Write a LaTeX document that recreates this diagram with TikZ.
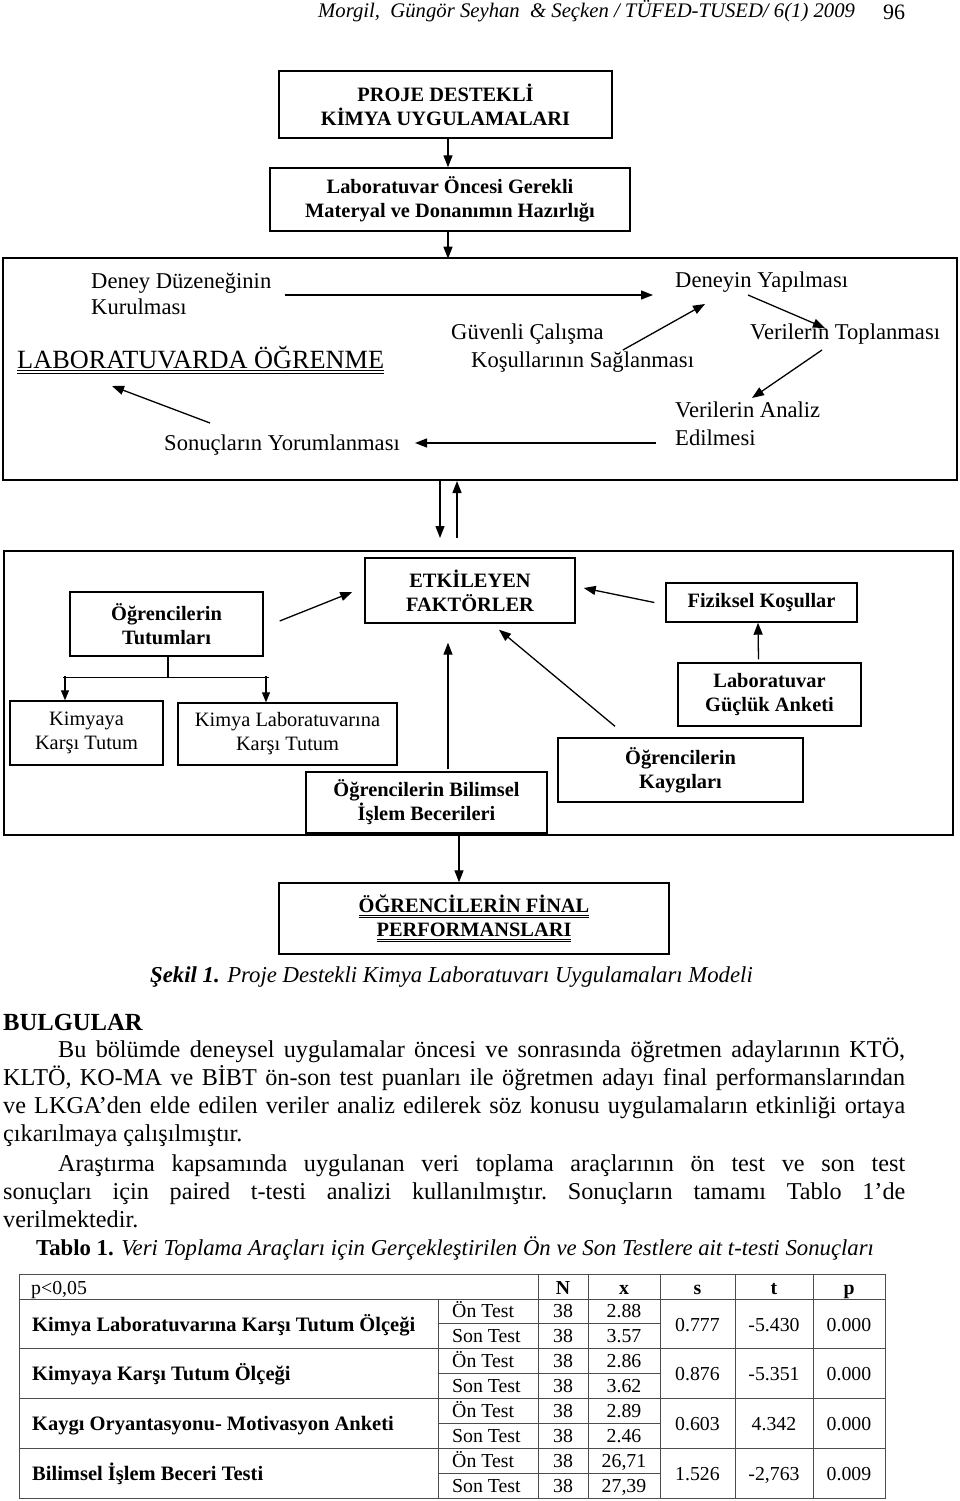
\documentclass[tikz,border=0pt]{standalone}
\usepackage{fontspec}
\setmainfont{Liberation Serif}
\usetikzlibrary{arrows.meta,calc}

\newcommand\boxfont{\fontsize{20.4}{24}\selectfont}
\newcommand\labfont{\fontsize{22.6}{26}\selectfont}
\newcommand\bodyfont{\fontsize{24.2}{28.3}\selectfont}
\newcommand\cellfont{\fontsize{19.8}{22}\selectfont}
\newcommand\labelfont{\fontsize{20.5}{22}\selectfont\bfseries}
\newcommand\capfont{\fontsize{22.75}{26}\selectfont}
\newcommand\dblline[1]{\leavevmode\vtop{\hbox{#1}\kern2pt\hrule height1pt\kern1.2pt\hrule height1pt}}

\begin{document}
\begin{tikzpicture}[x=1pt,y=-1pt,
    arr/.style={line width=1.3pt,-{Triangle[length=12pt,width=9pt]}},
    smallarr/.style={line width=1.2pt,-{Triangle[length=10pt,width=8pt]}}]

  \fill[white] (0,0) rectangle (960,1501);
  \useasboundingbox (0,0) rectangle (960,1501);

  % page head
  \node[anchor=base west,inner sep=0pt,font=\fontsize{20.7}{24}\selectfont\itshape] (head) at (318,18)
    {Morgil,~ Güngör Seyhan~ \& Seçken / TÜFED-TUSED/ 6(1) 2009};
  \node[anchor=base west,inner sep=0pt,font=\fontsize{22}{26}\selectfont] (page) at (883,20) {96};

  % frames
  \begin{scope}[every node/.style={draw,line width=2pt,inner sep=0pt}]
    \node[minimum width=954pt,minimum height=222pt] (lab) at (480,369) {};
    \node[minimum width=949pt,minimum height=284pt] (faktor) at (478.5,693) {};
  \end{scope}

  % boxes
  \begin{scope}[every node/.style={draw,line width=1.4pt,inner sep=0pt,align=center,font=\boxfont\bfseries}]
    \node[minimum width=333pt,minimum height=67pt] (proje) at (445.5,104.5) {PROJE DESTEKLİ\\KİMYA UYGULAMALARI};
    \node[minimum width=360pt,minimum height=63pt] (hazir) at (450,199.5) {Laboratuvar Öncesi Gerekli\\Materyal ve Donanımın Hazırlığı};
    \node[minimum width=210pt,minimum height=65pt] (etken) at (470,590.5) {ETKİLEYEN\\FAKTÖRLER};
    \node[minimum width=193pt,minimum height=64pt] (tutum) at (166.5,624) {Öğrencilerin\\Tutumları};
    \node[minimum width=191pt,minimum height=39pt] (fizik) at (761.5,602.5) {Fiziksel Koşullar};
    \node[minimum width=183pt,minimum height=63pt] (gucluk) at (769.5,694.5) {Laboratuvar\\Güçlük Anketi};
    \node[minimum width=241pt,minimum height=61pt] (bilim) at (426.5,802.5) {Öğrencilerin Bilimsel\\İşlem Becerileri};
    \node[minimum width=245pt,minimum height=64pt] (kaygi) at (680.5,770) {Öğrencilerin\\Kaygıları};
    \node[minimum width=390pt,minimum height=71pt] (final) at (474,918.5) {\dblline{ÖĞRENCİLERİN FİNAL}\\\dblline{PERFORMANSLARI}};
    \node[font=\boxfont,minimum width=153pt,minimum height=64pt] (kimya) at (86.5,733) {Kimyaya\\Karşı Tutum};
    \node[font=\boxfont,minimum width=219pt,minimum height=62pt] (kimlab) at (287.5,734) {Kimya Laboratuvarına\\Karşı Tutum};
  \end{scope}

  % laboratory cycle
  \begin{scope}[every node/.style={anchor=base west,inner sep=0pt,font=\labfont}]
    \node (deney) at (91,288) {Deney Düzeneğinin};
    \node (kurul) at (91,314) {Kurulması};
    \node (yapil) at (675,287) {Deneyin Yapılması};
    \node (guven) at (451,339) {Güvenli Çalışma};
    \node (kosul) at (471,367) {Koşullarının Sağlanması};
    \node (topla) at (750,339) {Verilerin Toplanması};
    \node (analiz) at (675,417) {Verilerin Analiz};
    \node (edil) at (675,445) {Edilmesi};
    \node (sonuc) at (164,450) {Sonuçların Yorumlanması};
    \node[font=\fontsize{26.3}{30}\selectfont] (ogren) at (17,368) {\dblline{LABORATUVARDA ÖĞRENME}};
  \end{scope}

  \draw[arr] ($(proje.south)+(2.5,0)$) -- ($(hazir.north)+(-2,0)$);
  \draw[arr] ($(hazir.south)+(-2,0)$) -- ($(hazir.south)+(-2,27)$);

  \draw[arr] ($(deney.base east)+(13,7)$) -- ($(yapil.base west)+(-22,8)$);
  \draw[arr] ($(guven.base east)+(19,11)$) -- ($(yapil.base west)+(30,17)$);
  \draw[arr] ($(yapil.base west)+(73,8)$) -- ($(topla.base west)+(75,-11)$);
  \draw[arr] ($(topla.base west)+(72,11)$) -- ($(analiz.base west)+(77,-19)$);
  \draw[arr] ($(edil.base west)+(-19,-2)$) -- ($(sonuc.base east)+(15,-7)$);
  \draw[arr] ($(sonuc.base west)+(46,-27)$) -- ($(ogren.base west)+(95,18)$);

  % between frames
  \draw[arr] ($(lab.south)+(-40,0)$) -- ($(lab.south)+(-40,57)$);
  \draw[arr] ($(lab.south)+(-23,57)$) -- ($(lab.south)+(-23,0)$);

  % factors
  \draw[arr] ($(tutum.east)+(16,-3)$) -- ($(etken.west)+(-12,1.5)$);
  \draw[arr] ($(fizik.west)+(-11,0)$) -- ($(etken.east)+(8,-2.5)$);
  \draw[arr] ($(gucluk.north)+(-11,-3)$) -- ($(fizik.south)+(-3.5,0)$);
  \draw[arr] ($(kaygi.north)+(-65.5,-11)$) -- ($(etken.south)+(29,6)$);
  \draw[arr] ($(bilim.north)+(21.5,-2)$) -- ($(etken.south)+(-22,19)$);

  \draw[line width=1.2pt] ($(tutum.south)+(1.5,0)$) -- ++(0,21) coordinate (tsplit);
  \draw[line width=1.2pt] ($(tsplit)+(-105,0)$) -- ($(tsplit)+(101,0)$);
  \draw[smallarr] ($(kimya.north)+(-21.5,-24)$) -- ($(kimya.north)+(-21.5,0)$);
  \draw[smallarr] ($(kimlab.north)+(-21.5,-26)$) -- ($(kimlab.north)+(-21.5,0)$);

  \draw[arr] ($(final.north)+(-15,-48)$) -- ($(final.north)+(-15,0)$);

  % caption and text
  \node[anchor=base west,inner sep=0pt,font=\capfont\itshape] (sekil) at (150,982)
    {\textbf{Şekil 1.} Proje Destekli Kimya Laboratuvarı Uygulamaları Modeli};
  \node[anchor=base west,inner sep=0pt,font=\fontsize{24.6}{28}\selectfont\bfseries] (bulgu) at (3,1030) {BULGULAR};
  \node[anchor=base west,inner sep=0pt,text width=902pt,align=left,font=\bodyfont] (par1) at (3,1057)
    {\spaceskip=0pt \xspaceskip=0pt \frenchspacing
     \hspace*{55pt}\makebox[847pt][s]{Bu bölümde deneysel uygulamalar öncesi ve sonrasında öğretmen adaylarının KTÖ,}\\
     \makebox[902pt][s]{KLTÖ, KO-MA ve BİBT ön-son test puanları ile öğretmen adayı final performanslarından}\\
     \makebox[902pt][s]{ve LKGA’den elde edilen veriler analiz edilerek söz konusu uygulamaların etkinliği ortaya}\\
     çıkarılmaya çalışılmıştır.};
  \node[anchor=base west,inner sep=0pt,text width=902pt,align=left,font=\bodyfont] (par2) at (3,1171)
    {\spaceskip=0pt \xspaceskip=0pt \frenchspacing
     \hspace*{55pt}\makebox[847pt][s]{Araştırma kapsamında uygulanan veri toplama araçlarının ön test ve son test}\\
     \makebox[902pt][s]{sonuçları için paired t-testi analizi kullanılmıştır. Sonuçların tamamı Tablo 1’de}\\
     verilmektedir.};
  \node[anchor=base west,inner sep=0pt,font=\capfont] (tablo) at (36,1255)
    {\textbf{Tablo 1.} \textit{Veri Toplama Araçları için Gerçekleştirilen Ön ve Son Testlere ait t-testi Sonuçları}};

  % table grid
  \begin{scope}[line width=1pt,color=black!70]
    \draw (19,1274) rectangle (885,1498);
    \draw (19,1299) -- (885,1299) (19,1348) -- (885,1348) (19,1398) -- (885,1398) (19,1448) -- (885,1448);
    \draw (438,1323) -- (660,1323) (438,1373) -- (660,1373) (438,1423) -- (660,1423) (438,1473) -- (660,1473);
    \draw (438,1299) -- (438,1498);
    \draw (538,1274) -- (538,1498) (588,1274) -- (588,1498) (660,1274) -- (660,1498)
          (735,1274) -- (735,1498) (813,1274) -- (813,1498);
  \end{scope}

  % table cells
  \begin{scope}[every node/.style={anchor=base,inner sep=0pt,font=\cellfont}]
    \node[anchor=base west] (pval) at (31,1294) {p<0,05};
    \node[font=\cellfont\bfseries] (hn) at (563,1294) {N};
    \node[font=\cellfont\bfseries] (hx) at (624,1294) {x};
    \node[font=\cellfont\bfseries] (hs) at (697.5,1294) {s};
    \node[font=\cellfont\bfseries] (ht) at (774,1294) {t};
    \node[font=\cellfont\bfseries] (hp) at (849,1294) {p};

    \node[anchor=base west,font=\labelfont] (olc1) at (32,1331) {Kimya Laboratuvarına Karşı Tutum Ölçeği};
    \node[anchor=base west] (on1) at (452,1317.5) {Ön Test};
    \node[anchor=base west] (son1) at (452,1342) {Son Test};
    \node (n1a) at (563,1317.5) {38};
    \node (n1b) at (563,1342) {38};
    \node (x1a) at (624,1317.5) {2.88};
    \node (x1b) at (624,1342) {3.57};
    \node (s1) at (697.5,1331) {0.777};
    \node (t1) at (774,1331) {-5.430};
    \node (p1) at (849,1331) {0.000};

    \node[anchor=base west,font=\labelfont] (olc2) at (32,1380) {Kimyaya Karşı Tutum Ölçeği};
    \node[anchor=base west] (on2) at (452,1367) {Ön Test};
    \node[anchor=base west] (son2) at (452,1392) {Son Test};
    \node (n2a) at (563,1367) {38};
    \node (n2b) at (563,1392) {38};
    \node (x2a) at (624,1367) {2.86};
    \node (x2b) at (624,1392) {3.62};
    \node (s2) at (697.5,1380) {0.876};
    \node (t2) at (774,1380) {-5.351};
    \node (p2) at (849,1380) {0.000};

    \node[anchor=base west,font=\labelfont] (olc3) at (32,1430) {Kaygı Oryantasyonu- Motivasyon Anketi};
    \node[anchor=base west] (on3) at (452,1417) {Ön Test};
    \node[anchor=base west] (son3) at (452,1442) {Son Test};
    \node (n3a) at (563,1417) {38};
    \node (n3b) at (563,1442) {38};
    \node (x3a) at (624,1417) {2.89};
    \node (x3b) at (624,1442) {2.46};
    \node (s3) at (697.5,1430) {0.603};
    \node (t3) at (774,1430) {4.342};
    \node (p3) at (849,1430) {0.000};

    \node[anchor=base west,font=\labelfont] (olc4) at (32,1480) {Bilimsel İşlem Beceri Testi};
    \node[anchor=base west] (on4) at (452,1467) {Ön Test};
    \node[anchor=base west] (son4) at (452,1492) {Son Test};
    \node (n4a) at (563,1467) {38};
    \node (n4b) at (563,1492) {38};
    \node (x4a) at (624,1467) {26,71};
    \node (x4b) at (624,1492) {27,39};
    \node (s4) at (697.5,1480) {1.526};
    \node (t4) at (774,1480) {-2,763};
    \node (p4) at (849,1480) {0.009};
  \end{scope}

\end{tikzpicture}
\end{document}
